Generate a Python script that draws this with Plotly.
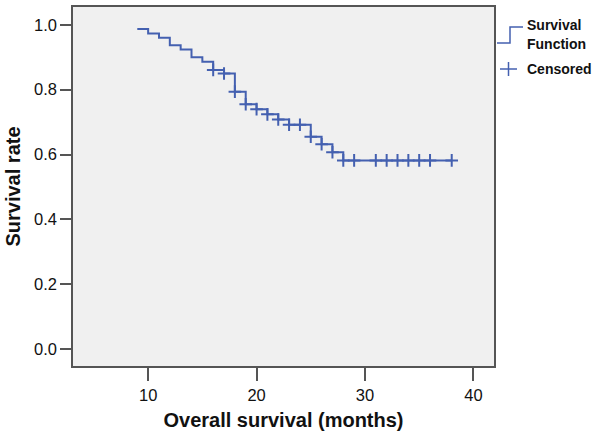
import plotly.graph_objects as go

# Kaplan-Meier step data
step_times = [9, 10, 11, 12, 13, 14, 15, 16, 17, 18, 19, 20, 21, 22, 23, 25, 26, 27, 28, 38]
step_surv = [0.987, 0.973, 0.960, 0.937, 0.924, 0.900, 0.886, 0.861, 0.850, 0.794,
             0.755, 0.740, 0.724, 0.708, 0.692, 0.655, 0.632, 0.607, 0.582, 0.582]

cens_times = [16, 17, 18, 19, 20, 21, 22, 23, 24, 25, 26, 27, 28, 29,
              31, 32, 33, 34, 35, 36, 38]
cens_surv = [0.861, 0.850, 0.794, 0.755, 0.740, 0.724, 0.708, 0.692, 0.692, 0.655,
             0.632, 0.607, 0.582, 0.582, 0.582, 0.582, 0.582, 0.582, 0.582, 0.582, 0.582]

x_ticks = [10, 20, 30, 40]
y_ticks = [0.0, 0.2, 0.4, 0.6, 0.8, 1.0]
y_tick_text = ["0.0", "0.2", "0.4", "0.6", "0.8", "1.0"]

LINE = "#4460B0"
W, H = 600, 436
ML, MR, MT, MB = 73, 106, 7, 70
PW, PH = W - ML - MR, H - MT - MB


def px(x):
    return (x - ML) / PW


def py(y):
    return (H - MB - y) / PH


fig = go.Figure()
fig.add_trace(go.Scatter(x=step_times, y=step_surv, mode="lines",
                         line=dict(color=LINE, width=2, shape="hv"),
                         showlegend=False, hoverinfo="skip"))
fig.add_trace(go.Scatter(x=cens_times, y=cens_surv, mode="markers",
                         marker=dict(symbol="cross-thin", size=9,
                                     line=dict(color=LINE, width=2)),
                         showlegend=False, hoverinfo="skip"))

axis_common = dict(showline=True, linecolor="#555555", linewidth=1.5, mirror=True,
                   ticks="outside", tickcolor="#555555", tickwidth=1.5,
                   showgrid=False, zeroline=False, automargin=False,
                   tickfont=dict(family="Liberation Sans, Arial", size=16.5, color="#111111"))

fig.update_xaxes(range=[3.07, 41.9], tickvals=x_ticks, ticklen=13,
                 title=dict(text="<b>Overall survival (months)</b>", standoff=10,
                            font=dict(family="Liberation Sans, Arial", size=20, color="#111111")),
                 **axis_common)
fig.update_yaxes(range=[-0.052, 1.055], tickvals=y_ticks, ticktext=y_tick_text, ticklen=11,
                 title=dict(text="<b>Survival rate</b>", standoff=8,
                            font=dict(family="Liberation Sans, Arial", size=20, color="#111111")),
                 **axis_common)

# manual legend
shapes = [
    dict(type="path", xref="paper", yref="paper",
         path=f"M {px(497)},{py(43)} L {px(510)},{py(43)} L {px(510)},{py(27)} L {px(523)},{py(27)}",
         line=dict(color=LINE, width=1.5)),
    dict(type="line", xref="paper", yref="paper", x0=px(500), x1=px(517), y0=py(69), y1=py(69),
         line=dict(color=LINE, width=1.5)),
    dict(type="line", xref="paper", yref="paper", x0=px(508.5), x1=px(508.5), y0=py(62), y1=py(76),
         line=dict(color=LINE, width=1.5)),
]
leg_font = dict(family="Liberation Sans, Arial", size=14, color="#111111")
annotations = [
    dict(text="<b>Survival</b>", x=px(525), y=py(25), xref="paper", yref="paper",
         xanchor="left", yanchor="middle", showarrow=False, font=leg_font),
    dict(text="<b>Function</b>", x=px(525), y=py(44), xref="paper", yref="paper",
         xanchor="left", yanchor="middle", showarrow=False, font=leg_font),
    dict(text="<b>Censored</b>", x=px(525), y=py(69), xref="paper", yref="paper",
         xanchor="left", yanchor="middle", showarrow=False, font=leg_font),
]

fig.update_layout(width=W, height=H, margin=dict(l=ML, r=MR, t=MT, b=MB),
                  paper_bgcolor="white", plot_bgcolor="#F0F0F0",
                  shapes=shapes, annotations=annotations, showlegend=False)

fig.write_html("out.html", config={"displayModeBar": False},
               post_script="document.body.style.margin='0px';document.body.style.overflow='hidden';")
